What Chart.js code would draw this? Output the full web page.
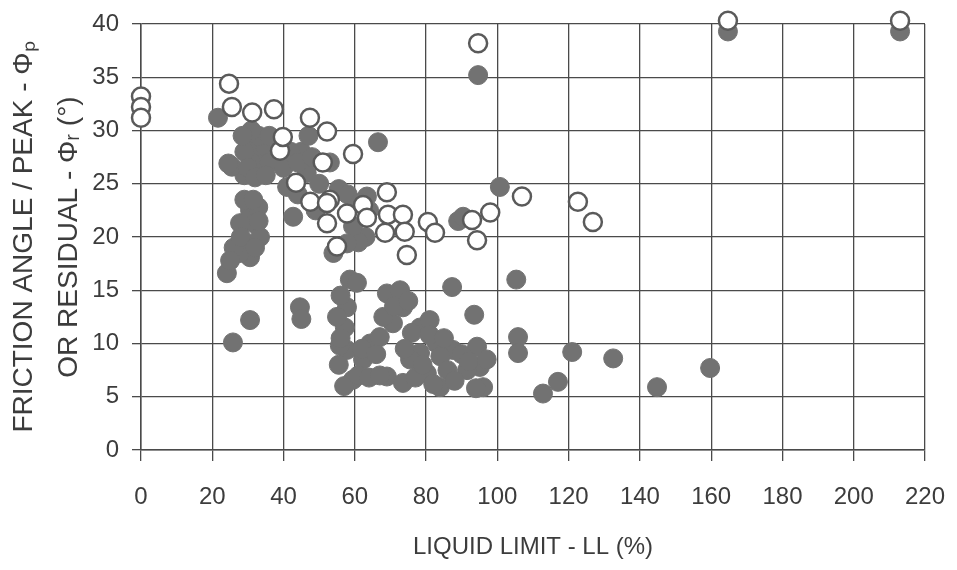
<!DOCTYPE html>
<html>
<head>
<meta charset="utf-8">
<script src="https://cdn.jsdelivr.net/npm/chart.js@4/dist/chart.umd.min.js"></script>
<style>
    html, body { margin: 0; padding: 0; background: #fff; }
    #wrap { width: 957px; height: 570px; }
</style>
</head>
<body>
<div id="wrap"><canvas id="frictionChart"></canvas></div>
<script>
// Peak friction angle (open circles)
const peakLL = [0, 0, 0, 24.7, 25.5, 31.2, 37.3, 47.4, 52.2, 59.5, 39, 39.8, 43.5, 51, 53, 47.5,
    69, 69.3, 73.5, 68.5, 74, 74.6, 80.5, 82.5, 92.9, 98, 94.3, 52.2, 57.8, 62.3, 52.2, 55, 63.4,
    106.9, 122.6, 126.8, 94.6, 164.7, 213];
const peakPhi = [33.2, 32.2, 31.2, 34.4, 32.2, 31.7, 32, 31.2, 29.9, 27.8, 28.1, 29.4, 25.1, 27, 23.5, 23.3,
    24.2, 22.1, 22.1, 20.4, 20.5, 18.3, 21.4, 20.4, 21.6, 22.3, 19.7, 23.2, 22.2, 23, 21.3, 19.1, 21.8,
    23.8, 23.3, 21.4, 38.2, 40.3, 40.3];

// Residual friction angle (filled circles)
const residualLL = [21.6, 30, 32, 33, 31, 34, 35, 33, 36, 29, 25.5, 24.5,
    29, 30, 32, 35, 36, 31, 28.5,
    45, 46.5, 50, 41, 53, 47, 55.5, 63.4, 66.5,
    40, 42, 44, 48, 44, 49, 58, 63, 61, 64, 89,
    24.1, 30.6, 29.7, 31.5, 30.6, 32.9, 33.4, 27.8, 27.8,
    29, 31.5, 33, 26, 28, 32, 25,
    42.7, 30.6, 25.8, 44.6, 45,
    54, 58.6, 60.6, 57.8, 57.2, 57.8, 59.5, 55.8, 61.4, 59.5, 57.8,
    69, 72.7, 73.5, 70.7, 64.3, 62.3, 69, 73.5, 78.3, 81, 78.3, 83, 83.9, 80.2, 87.5, 94.3, 95.1, 96, 91.5, 75.5, 67,
    56, 55, 56, 55.5, 57, 62, 61, 64, 66, 67, 68, 71, 75, 76, 74, 77, 79, 82, 84, 86, 88, 90, 92, 94, 97, 81, 85,
    87.3, 93.5, 105.3, 105.8, 105.8, 112.8, 117, 121, 132.5, 144.8, 159.7,
    94.6, 100.7, 90.4, 164.7, 213];
const residualPhi = [31.2, 29, 28.5, 27.5, 27, 26.5, 28.5, 29.5, 27, 25.8, 26.6, 26.9,
    28, 26.5, 25.6, 25.8, 29.5, 30, 29.5,
    28, 26, 25, 24.7, 27, 29.5, 24.5, 23.8, 28.9,
    26.5, 28, 27, 27.5, 24, 22.5, 24, 20, 19.5, 22.5, 21.5,
    16.6, 18.1, 19.4, 21.3, 22.5, 22.8, 20, 18.5, 21.3,
    23.5, 23.5, 21.5, 19, 20, 19, 17.8,
    21.9, 12.2, 10.1, 13.4, 12.3,
    18.5, 16, 15.7, 13.4, 11.5, 9.4, 6.6, 9.8, 23.2, 21, 19.4,
    14.7, 15, 13.4, 11.9, 10, 8.5, 6.9, 6.3, 11.5, 12.2, 9.1, 10, 5.9, 7.2, 9.4, 9.7, 7.8, 5.9, 7.5, 8.5, 10.6,
    14.5, 12.5, 10.5, 8, 6, 9.5, 7, 6.8, 9, 7, 12.5, 13.5, 14, 11, 9.5, 6.8, 8, 6.2, 8.8, 7.5, 6.5, 9, 8.3, 5.8, 8.5, 10.8, 10.5,
    15.3, 12.7, 16, 10.6, 9.1, 5.3, 6.4, 9.2, 8.6, 5.9, 7.7,
    35.2, 24.7, 21.9, 39.3, 39.3];

const xTicks = [0, 20, 40, 60, 80, 100, 120, 140, 160, 180, 200, 220];
const yTicks = [0, 5, 10, 15, 20, 25, 30, 35, 40];

function toPoints(xs, ys) {
    return xs.map((x, i) => ({ x: x, y: ys[i] }));
}

const gridColor = '#4a4a4a';
const textColor = '#3c3c3c';
const fontFamily = "'Liberation Sans', Arial, sans-serif";

const ctx = document.getElementById('frictionChart').getContext('2d');

new Chart(ctx, {
    type: 'scatter',
    data: {
        datasets: [
            {
                label: 'Peak',
                data: toPoints(peakLL, peakPhi),
                backgroundColor: '#ffffff',
                borderColor: '#5a5a5a',
                borderWidth: 2.5,
                pointRadius: 9,
                clip: false
            },
            {
                label: 'Residual',
                data: toPoints(residualLL, residualPhi),
                backgroundColor: '#727272',
                borderColor: '#727272',
                borderWidth: 1,
                pointRadius: 9.5,
                clip: false
            }
        ]
    },
    options: {
        responsive: true,
        maintainAspectRatio: false,
        animation: false,
        layout: { padding: { top: 24, right: 32, left: 0, bottom: 0 } },
        plugins: {
            legend: { display: false },
            tooltip: { enabled: false }
        },
        scales: {
            x: {
                type: 'linear',
                min: 0,
                max: 220,
                afterBuildTicks: scale => { scale.ticks = xTicks.map(v => ({ value: v })); },
                afterFit: scale => {
                    scale.height = 120;
                    scale.paddingLeft = 0;
                    scale.paddingRight = 0;
                },
                grid: { color: gridColor, lineWidth: 1.3, tickLength: 11, tickColor: gridColor },
                border: { color: gridColor, width: 1.5 },
                ticks: {
                    color: textColor,
                    font: { family: fontFamily, size: 24 },
                    padding: 22,
                    maxRotation: 0
                },
                title: {
                    display: true,
                    text: 'LIQUID LIMIT - LL (%)',
                    color: textColor,
                    font: { family: fontFamily, size: 24 },
                    padding: { top: 0, bottom: 8 }
                }
            },
            y: {
                min: 0,
                max: 40,
                afterBuildTicks: scale => { scale.ticks = yTicks.map(v => ({ value: v })); },
                afterFit: scale => {
                    scale.width = 141;
                    scale.paddingTop = 0;
                    scale.paddingBottom = 0;
                },
                grid: { color: gridColor, lineWidth: 1.3, tickLength: 9, tickColor: gridColor },
                border: { color: gridColor, width: 1.5 },
                ticks: {
                    color: textColor,
                    font: { family: fontFamily, size: 24 },
                    padding: 13
                },
                title: {
                    display: true,
                    text: ['FRICTION ANGLE / PEAK - \u03A6\u209A', 'OR RESIDUAL - \u03A6\u1D63 (\u00B0)'],
                    color: textColor,
                    font: { family: fontFamily, size: 28, lineHeight: 1.6 },
                    padding: { top: 2, bottom: 0 }
                }
            }
        }
    }
});
</script>
</body>
</html>
